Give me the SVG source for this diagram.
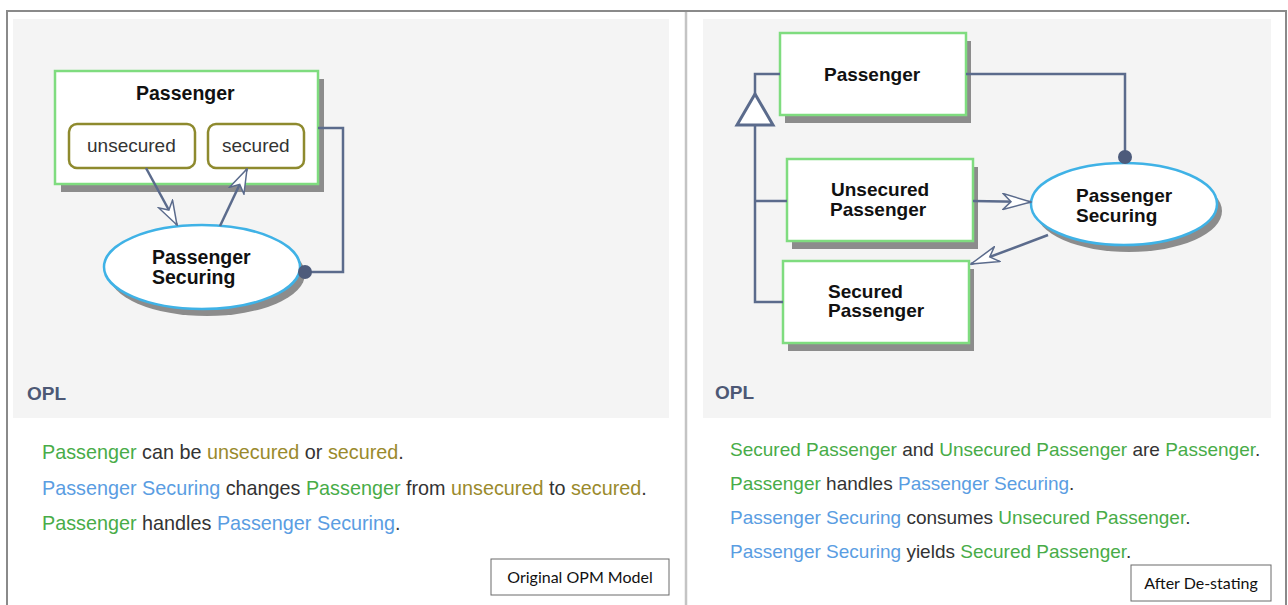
<svg xmlns="http://www.w3.org/2000/svg" width="1288" height="605" viewBox="0 0 1288 605">
<defs>
<style>
.bg{fill:#f4f4f4}
.frame{stroke:#8a8a8a;stroke-width:2;fill:none}
.div{stroke:#c4c4c4;stroke-width:2.5;fill:none}
.obj{fill:#ffffff;stroke:#7fdc7f;stroke-width:2.5}
.shadow{fill:#8c8c8c}
.state{fill:#ffffff;stroke:#8e8a2e;stroke-width:2.5}
.proc{fill:#ffffff;stroke:#3fb2e6;stroke-width:2.5}
.link{stroke:#5b6b8c;stroke-width:2.5;fill:none}
.dot{fill:#4d5b7b}
.name{font-family:"Liberation Sans",Arial,sans-serif;font-weight:bold;font-size:19px;fill:#111}
.sname{font-family:"Liberation Sans",Arial,sans-serif;font-size:19px;fill:#333}
.opl{font-family:"Liberation Sans",Arial,sans-serif;font-weight:bold;font-size:19px;fill:#4d5875}
.t{font-family:"Liberation Sans",Arial,sans-serif;fill:#333}
.g{fill:#48ac48}
.o{fill:#9a8a2c}
.b{fill:#5a9de2}
.lbl{fill:#ffffff;stroke:#6a6a6a;stroke-width:1}
.lt{font-family:Lato,"Open Sans",sans-serif;font-size:16px;fill:#111}
</style>
<marker id="openS" viewBox="0 0 26 18" refX="25" refY="9" markerWidth="26" markerHeight="18" markerUnits="userSpaceOnUse" orient="auto">
<path d="M1,1 L25,9 L1,17 L8,9 Z" fill="#ffffff" stroke="#5b6b8c" stroke-width="1.5" stroke-linejoin="miter"/>
</marker>
<marker id="openL" viewBox="0 0 30 18" refX="29" refY="9" markerWidth="30" markerHeight="18" markerUnits="userSpaceOnUse" orient="auto">
<path d="M1,1 L29,9 L1,17 L9,9 Z" fill="#ffffff" stroke="#5b6b8c" stroke-width="1.5" stroke-linejoin="miter"/>
</marker>
</defs>

<g id="background">
<rect class="bg" x="13" y="19" width="656" height="399"/>
<rect class="bg" x="703" y="19" width="568" height="399"/>
<path class="frame" d="M7,605 V11 H1286 V605"/>
<path class="div" d="M686,12 V605"/>
</g>

<g id="left-passenger">
<rect class="shadow" x="61" y="79" width="263" height="113"/>
<rect class="obj" x="55" y="71" width="263" height="113"/>
<text class="name" x="136" y="100" style="font-size:19.5px">Passenger</text>
</g>
<g id="left-state-unsecured">
<rect class="state" x="69" y="124" width="126" height="44" rx="8"/>
<text class="sname" x="87" y="152">unsecured</text>
</g>
<g id="left-state-secured">
<rect class="state" x="208" y="124" width="96" height="44" rx="8"/>
<text class="sname" x="222" y="152">secured</text>
</g>
<g id="left-passenger-securing">
<ellipse class="shadow" cx="207" cy="274" rx="98" ry="42"/>
<ellipse class="proc" cx="202" cy="267" rx="98" ry="42"/>
<text class="name" x="152" y="264" style="font-size:19.5px">Passenger</text>
<text class="name" x="152" y="284" style="font-size:19.5px">Securing</text>
</g>

<g id="right-passenger">
<rect class="shadow" x="785" y="41" width="186" height="82"/>
<rect class="obj" x="780" y="33" width="186" height="82"/>
<text class="name" x="824" y="81">Passenger</text>
</g>
<g id="right-unsecured-passenger">
<rect class="shadow" x="792" y="167" width="186" height="82"/>
<rect class="obj" x="787" y="159" width="186" height="82"/>
<text class="name" x="831" y="196">Unsecured</text>
<text class="name" x="830" y="216">Passenger</text>
</g>
<g id="right-secured-passenger">
<rect class="shadow" x="788" y="269" width="186" height="82"/>
<rect class="obj" x="783" y="261" width="186" height="82"/>
<text class="name" x="828" y="298">Secured</text>
<text class="name" x="828" y="317">Passenger</text>
</g>
<g id="right-passenger-securing">
<ellipse class="shadow" cx="1129" cy="211" rx="93" ry="41"/>
<ellipse class="proc" cx="1124" cy="204" rx="93" ry="41"/>
<text class="name" x="1076" y="202">Passenger</text>
<text class="name" x="1076" y="222">Securing</text>
</g>

<g id="connectors">
<path class="link" d="M318,128 H343 V272 H306"/>
<circle class="dot" cx="305" cy="272" r="7"/>
<line class="link" x1="146" y1="168" x2="177" y2="225" marker-end="url(#openS)"/>
<line class="link" x1="220" y1="226" x2="247" y2="169" marker-end="url(#openS)"/>
<path class="link" d="M966,74 H1125 V158"/>
<circle class="dot" cx="1125" cy="157" r="7"/>
<line class="link" x1="973" y1="201" x2="1031" y2="202" marker-end="url(#openL)"/>
<line class="link" x1="1048" y1="235" x2="971" y2="264" marker-end="url(#openL)"/>
<path class="link" d="M780,74 H755 V94"/>
<path class="link" d="M755,125 V302 H783"/>
<path class="link" d="M755,201 H787"/>
<polygon points="755,94 737,125 773,125" fill="#ffffff" stroke="#5b6b8c" stroke-width="3" stroke-linejoin="miter"/>
</g>

<g id="left-opl">
<text class="opl" x="27" y="400">OPL</text>
<text class="t" x="42" y="459" style="font-size:19.8px"><tspan class="g">Passenger</tspan> can be <tspan class="o">unsecured</tspan> or <tspan class="o">secured</tspan>.</text>
<text class="t" x="42" y="495" style="font-size:19.8px"><tspan class="b">Passenger Securing</tspan> changes <tspan class="g">Passenger</tspan> from <tspan class="o">unsecured</tspan> to <tspan class="o">secured</tspan>.</text>
<text class="t" x="42" y="530" style="font-size:19.8px"><tspan class="g">Passenger</tspan> handles <tspan class="b">Passenger Securing</tspan>.</text>
</g>
<g id="right-opl">
<text class="opl" x="715" y="399">OPL</text>
<text class="t" x="730" y="456" style="font-size:19px"><tspan class="g">Secured Passenger</tspan> and <tspan class="g">Unsecured Passenger</tspan> are <tspan class="g">Passenger</tspan>.</text>
<text class="t" x="730" y="490" style="font-size:19px"><tspan class="g">Passenger</tspan> handles <tspan class="b">Passenger Securing</tspan>.</text>
<text class="t" x="730" y="524" style="font-size:19px"><tspan class="b">Passenger Securing</tspan> consumes <tspan class="g">Unsecured Passenger</tspan>.</text>
<text class="t" x="730" y="558" style="font-size:19px"><tspan class="b">Passenger Securing</tspan> yields <tspan class="g">Secured Passenger</tspan>.</text>
</g>

<g id="label-original">
<rect class="lbl" x="491" y="559" width="178" height="36"/>
<text class="lt" x="580" y="583" text-anchor="middle">Original OPM Model</text>
</g>
<g id="label-after">
<rect class="lbl" x="1131" y="565" width="140" height="36"/>
<text class="lt" x="1201" y="589" text-anchor="middle">After De-stating</text>
</g>
</svg>
